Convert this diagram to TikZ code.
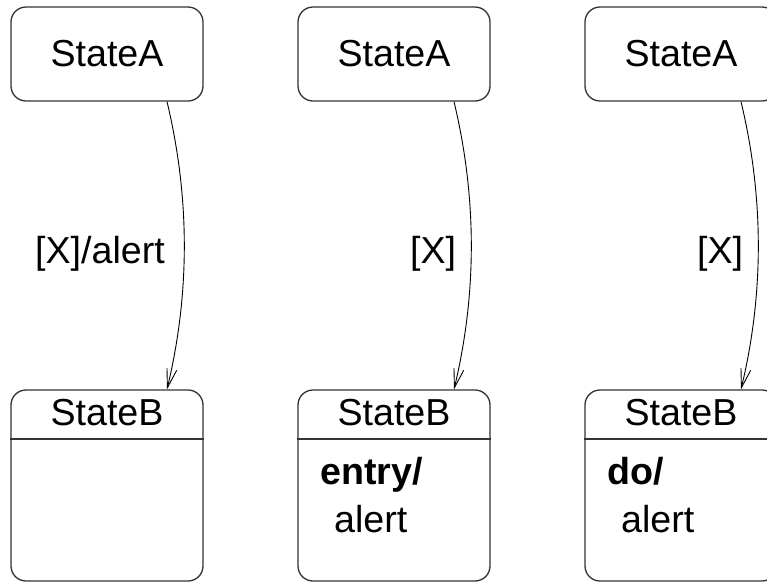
\documentclass[tikz,border=0pt]{standalone}
\usepackage{fontspec}
\setmainfont{Liberation Sans}
\usetikzlibrary{arrows.meta}
\begin{document}
\begin{tikzpicture}[x=1pt,y=-1pt,
  statebox/.style={draw=black!80, line width=1.3pt, rounded corners=15pt,
    minimum width=192pt, inner sep=0pt, font=\fontsize{37.6}{45}\selectfont},
  txt/.style={inner sep=0pt, font=\fontsize{37.6}{45}\selectfont},
  trans/.style={line width=0.9pt, -{Straight Barb[length=19pt,width=10pt]}}]
\useasboundingbox (0,0) rectangle (767,582);
\clip (0,0) rectangle (767,582);

% three columns, 287pt apart
\foreach \i/\dx in {1/0,2/287,3/574} {
  \node[statebox, minimum height=94pt] (A\i) at (107+\dx,54) {StateA};
  \node[statebox, minimum height=191pt] (B\i) at (107+\dx,485.5) {};
  \node[txt, anchor=base] (T\i) at (107+\dx,425) {StateB};
  \draw[black!80, line width=1.3pt] (B\i.west |- 0,439) -- (B\i.east |- 0,439);
  \draw[trans] ([xshift=60pt]A\i.south) .. controls +(23,96) and +(23,-96) .. ([xshift=60pt]B\i.north);
}

% transition labels
\node[txt, anchor=base west] (L1) at (35,263) {[X]/alert};
\node[txt, anchor=base west] (L2) at (410,263) {[X]};
\node[txt, anchor=base west] (L3) at (697,263) {[X]};

% internal activities
\node[txt, anchor=base west] (E2) at (320,484) {\bfseries entry/};
\node[txt, anchor=base west] (F2) at (334,532) {alert};
\node[txt, anchor=base west] (E3) at (607,484) {\bfseries do/};
\node[txt, anchor=base west] (F3) at (621,532) {alert};
\end{tikzpicture}
\end{document}
